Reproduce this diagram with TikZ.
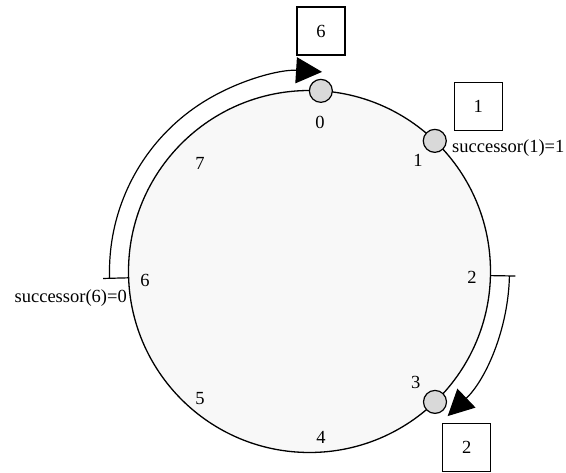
\documentclass[tikz,border=0pt]{standalone}
\usepackage{fontspec}
\setmainfont{Liberation Serif}
\usetikzlibrary{calc,arrows.meta}
\definecolor{ringfill}{HTML}{F8F8F8}
\definecolor{peerfill}{HTML}{D9D9D9}
\tikzset{
  lbl/.style={inner sep=0pt,font=\fontsize{18.5}{20}\selectfont},
  keybox/.style={draw,line width=1.2pt,minimum width=48pt,minimum height=48pt,inner sep=0pt,font=\fontsize{18.5}{20}\selectfont},
  peer/.style={draw,line width=1.2pt,circle,fill=peerfill,minimum size=23pt,inner sep=0pt},
  ring/.style={draw,line width=1.3pt,fill=ringfill},
  succarc/.style={line width=1.2pt,-{Triangle[length=26pt,width=26pt]}},
  tick/.style={line width=1.2pt}
}
\begin{document}
\begin{tikzpicture}[x=1pt,y=1pt]
\useasboundingbox (0,0) rectangle (566,473);
\coordinate (C) at (309.5,201.5);
\fill[white] (0,0) rectangle (566,473);
\draw[ring] (C) circle[radius=181];
% successor arcs
\coordinate (a6) at ($(C)+(182:200)$);
\coordinate (a6in) at ($(C)+(182:181)$);
\coordinate (a6out) at ($(a6)+(-6.5,0)$);
\coordinate (a2) at ($(C)+(-1.3:200)$);
\coordinate (a2in) at ($(C)+(-1.3:181)$);
\coordinate (a2out) at ($(a2)+(6,0)$);
\draw[tick] (a6out) -- (a6in);
\draw[tick] (a2in) -- (a2out);
\draw[succarc] (a6) arc[start angle=182,end angle=86.4,radius=200];
\draw[succarc] (a2) arc[start angle=-1.3,end angle=-46.3,radius=200];
% peers
\node[peer] (n0) at ($(C)+(86.4:181)$) {};
\node[peer] (n1) at ($(C)+(46.2:181)$) {};
\node[peer] (n3) at ($(C)+(-46.1:181)$) {};
% identifier labels
\node[lbl] (l0) at (320,351) {0};
\node[lbl] (l1) at (418,313) {1};
\node[lbl] (l2) at (472,196) {2};
\node[lbl] (l3) at (415.7,91) {3};
\node[lbl] (l4) at (321,36) {4};
\node[lbl] (l5) at (200,74) {5};
\node[lbl] (l6) at (145,193) {6};
\node[lbl] (l7) at (200,310) {7};
% key boxes
\node[keybox] (k6) at (321,442) {6};
\node[keybox] (k1) at (478.3,366.5) {1};
\node[keybox] (k2) at (466.7,25.5) {2};
% successor texts
\node[lbl,anchor=base west] (s1) at (452,320.5) {successor(1)=1};
\node[lbl,anchor=base east] (s6) at (127,170) {successor(6)=0};
\end{tikzpicture}
\end{document}
